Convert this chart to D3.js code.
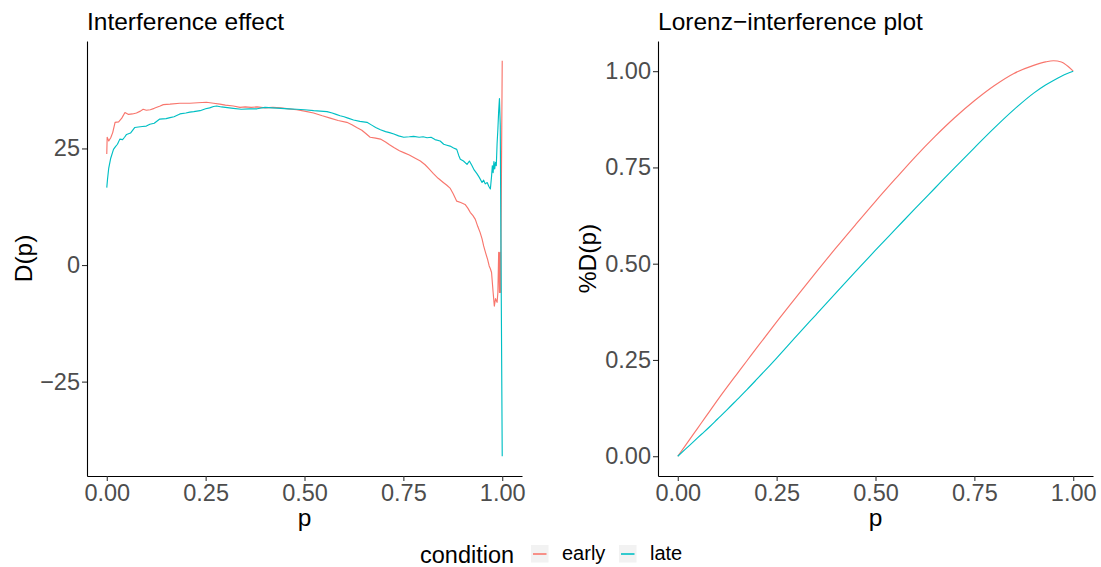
<!DOCTYPE html>
<html>
<head>
<meta charset="utf-8">
<script src="https://cdn.jsdelivr.net/npm/d3@7"></script>
<style>
  html, body { margin: 0; padding: 0; background: #fff; }
  svg { display: block; font-family: "Liberation Sans", Arial, Helvetica, sans-serif; }
</style>
</head>
<body>
<svg id="chart" width="1101" height="567"></svg>
<script>
// ---------------- data ----------------
const conditions = ["early", "late"];
const colors = ["#F8766D", "#00BFC4"];

// Interference effect D(p), condition "early"
const pEarly = [0.000,0.001,0.005,0.010,0.015,0.021,0.030,0.038,0.046,0.055,0.065,0.075,0.085,0.092,0.100,0.110,0.120,0.135,0.143,0.160,0.185,0.210,0.230,0.252,0.270,0.286,0.300,0.320,0.337,0.350,0.365,0.380,0.400,0.420,0.440,0.460,0.480,0.500,0.523,0.545,0.565,0.585,0.607,0.620,0.632,0.645,0.655,0.666,0.680,0.692,0.705,0.715,0.726,0.740,0.751,0.765,0.780,0.793,0.805,0.815,0.826,0.838,0.851,0.860,0.868,0.876,0.885,0.895,0.906,0.913,0.919,0.926,0.932,0.938,0.944,0.949,0.953,0.958,0.963,0.967,0.970,0.973,0.977,0.980,0.983,0.985,0.987,0.989,0.991,0.993,0.994,0.996,1.000];
const dEarly = [23.8,27.4,26.6,27.3,28.4,30.6,30.7,31.5,32.7,32.3,32.4,32.6,33.0,33.4,33.2,33.3,33.6,34.1,34.4,34.5,34.7,34.7,34.8,34.9,34.7,34.5,34.3,34.1,33.8,33.9,33.8,33.9,33.7,33.8,33.7,33.5,33.3,33.0,32.6,32.0,31.5,31.0,30.6,30.1,29.5,28.9,28.2,27.4,27.2,27.0,26.4,25.8,25.2,24.5,24.1,23.6,22.9,22.3,21.5,20.6,19.6,18.6,17.7,17.1,16.5,15.3,13.7,13.4,13.0,12.2,11.3,10.6,9.8,8.3,7.0,5.6,4.1,2.6,1.2,-0.2,-0.8,-1.6,-5.9,-8.8,-7.2,-7.6,-8.0,-5.9,2.7,-5.9,2.7,-5.9,43.8];

// Interference effect D(p), condition "late"
const pLate = [0.000,0.002,0.005,0.010,0.017,0.022,0.027,0.033,0.040,0.045,0.050,0.060,0.071,0.080,0.090,0.100,0.109,0.120,0.134,0.150,0.160,0.170,0.185,0.200,0.210,0.220,0.236,0.250,0.260,0.270,0.278,0.290,0.300,0.320,0.340,0.360,0.380,0.400,0.420,0.440,0.460,0.480,0.500,0.523,0.540,0.557,0.570,0.580,0.590,0.600,0.610,0.624,0.640,0.658,0.670,0.680,0.692,0.705,0.715,0.726,0.738,0.751,0.765,0.776,0.790,0.800,0.810,0.820,0.830,0.843,0.852,0.860,0.868,0.877,0.885,0.890,0.894,0.902,0.911,0.917,0.923,0.929,0.936,0.942,0.949,0.953,0.957,0.962,0.966,0.970,0.973,0.975,0.977,0.979,0.981,0.983,0.985,0.987,0.989,0.991,0.993,0.995,1.000];
const dLate = [16.6,18.5,20.8,22.9,24.8,25.4,25.9,27.0,26.9,27.4,28.0,28.3,29.5,29.6,29.7,29.8,30.2,30.4,31.3,31.4,31.6,31.8,32.4,32.6,32.8,32.9,33.1,33.5,33.7,34.0,34.1,33.9,33.8,33.6,33.4,33.5,33.5,33.8,33.7,33.6,33.5,33.4,33.3,33.1,33.0,32.9,32.6,32.3,32.0,31.8,31.5,31.1,30.8,30.6,30.0,29.5,29.0,28.6,28.4,28.1,27.7,27.4,27.5,27.6,27.4,27.5,27.3,27.4,26.9,26.6,25.9,25.7,25.5,25.1,24.8,23.5,22.7,22.3,21.6,22.3,21.4,20.4,19.6,18.8,17.7,18.2,17.4,17.7,16.9,16.3,19.0,21.3,19.8,22.2,20.6,22.0,21.3,26.0,29.1,33.0,35.7,30.0,-41.0];

// Lorenz-interference %D(p)
const pLorenz = [0,0.02,0.04,0.06,0.08,0.10,0.125,0.15,0.175,0.20,0.25,0.30,0.35,0.40,0.45,0.50,0.55,0.60,0.65,0.70,0.75,0.80,0.85,0.90,0.93,0.95,0.97,0.985,1.0];
const lorenzEarly = [0,0.029,0.058,0.087,0.116,0.145,0.180,0.214,0.248,0.282,0.349,0.414,0.478,0.541,0.602,0.662,0.720,0.777,0.830,0.879,0.923,0.962,0.994,1.015,1.024,1.027,1.024,1.014,1.0];
const lorenzLate  = [0,0.019,0.038,0.057,0.076,0.096,0.121,0.147,0.173,0.200,0.255,0.312,0.368,0.424,0.480,0.535,0.589,0.643,0.696,0.749,0.801,0.852,0.900,0.943,0.964,0.976,0.987,0.994,1.0];

const xTicks = [0, 0.25, 0.5, 0.75, 1];
const yTicksLeft = [-25, 0, 25];
const yTicksRight = [0, 0.25, 0.5, 0.75, 1];
const titles = ["Interference effect", "Lorenz\u2212interference plot"];
const yTitles = ["D(p)", "%D(p)"];
const xTitle = "p";
const legendTitle = "condition";

// ---------------- drawing ----------------
const svg = d3.select("#chart");
const FONT_TICK = 23.5, FONT_TITLE = 24.5, FONT_AXIS = 24.5;

function expand(ext, f) {
  const r = ext[1] - ext[0];
  return [ext[0] - r * f, ext[1] + r * f];
}
const minusFmt = (fmt) => (v) => fmt(v).replace("-", "\u2212");

function panel(opts) {
  const g = svg.append("g");
  const x = d3.scaleLinear().domain(expand([0, 1], 0.05)).range([opts.left, opts.right]);
  const y = d3.scaleLinear().domain(expand(opts.yExtent, 0.05)).range([476, 41]);

  // series
  const line = d3.line().x(d => x(d[0])).y(d => y(d[1])).curve(opts.curve);
  opts.series.forEach((s, i) => {
    g.append("path")
      .datum(d3.zip(s.p, s.v))
      .attr("fill", "none")
      .attr("stroke", colors[i])
      .attr("stroke-width", 1.15)
      .attr("stroke-linejoin", "round")
      .attr("d", line);
  });

  // axes
  const xAxis = d3.axisBottom(x).tickValues(xTicks).tickFormat(d3.format(".2f"))
    .tickSize(5).tickSizeOuter(0).tickPadding(3.5);
  const yAxis = d3.axisLeft(y).tickValues(opts.yTicks).tickFormat(minusFmt(opts.yFmt))
    .tickSize(5).tickSizeOuter(0).tickPadding(2);
  const gx = g.append("g").attr("transform", `translate(0,${y.range()[0]})`).call(xAxis);
  const gy = g.append("g").attr("transform", `translate(${x.range()[0]},0)`).call(yAxis);
  [gx, gy].forEach(a => {
    a.select(".domain").attr("stroke", "#000").attr("stroke-width", 1.1);
    a.selectAll(".tick line").attr("stroke", "#333").attr("stroke-width", 1.1);
    a.selectAll(".tick text").attr("fill", "#4d4d4d")
      .style("font-size", FONT_TICK + "px")
      .style("font-family", "'Liberation Sans', Arial, sans-serif");
  });

  // titles
  g.append("text").attr("x", x.range()[0]).attr("y", 30)
    .style("font-size", FONT_TITLE + "px").attr("fill", "#000").text(opts.title);
  g.append("text").attr("x", (x.range()[0] + x.range()[1]) / 2).attr("y", 526)
    .attr("text-anchor", "middle").style("font-size", FONT_AXIS + "px").attr("fill", "#000").text(xTitle);
  g.append("text")
    .attr("transform", `translate(${opts.yTitleX},${(y.range()[0] + y.range()[1]) / 2}) rotate(-90)`)
    .attr("text-anchor", "middle").style("font-size", FONT_AXIS + "px").attr("fill", "#000").text(opts.yTitle);
}

panel({
  left: 87, right: 522,
  yExtent: d3.extent(dEarly.concat(dLate)),
  yTicks: yTicksLeft, yFmt: d3.format("d"),
  series: [{p: pEarly, v: dEarly}, {p: pLate, v: dLate}],
  curve: d3.curveLinear,
  title: titles[0], yTitle: yTitles[0], yTitleX: 31.5
});
panel({
  left: 658, right: 1093,
  yExtent: d3.extent(lorenzEarly.concat(lorenzLate)),
  yTicks: yTicksRight, yFmt: d3.format(".2f"),
  series: [{p: pLorenz, v: lorenzEarly}, {p: pLorenz, v: lorenzLate}],
  curve: d3.curveMonotoneX,
  title: titles[1], yTitle: yTitles[1], yTitleX: 596
});

// legend
const lg = svg.append("g");
lg.append("text").attr("x", 420).attr("y", 563).style("font-size", "23.5px").attr("fill", "#000").text(legendTitle);
const keyX = [531, 619], labX = [562, 650];
conditions.forEach((c, i) => {
  lg.append("rect").attr("x", keyX[i]).attr("y", 545).attr("width", 17.5).attr("height", 17.5).attr("fill", "#f2f2f2");
  lg.append("line").attr("x1", keyX[i] + 2).attr("x2", keyX[i] + 15.5).attr("y1", 554).attr("y2", 554)
    .attr("stroke", colors[i]).attr("stroke-width", 1.6);
  lg.append("text").attr("x", labX[i]).attr("y", 560).style("font-size", "20px").attr("fill", "#000").text(c);
});
</script>
</body>
</html>
